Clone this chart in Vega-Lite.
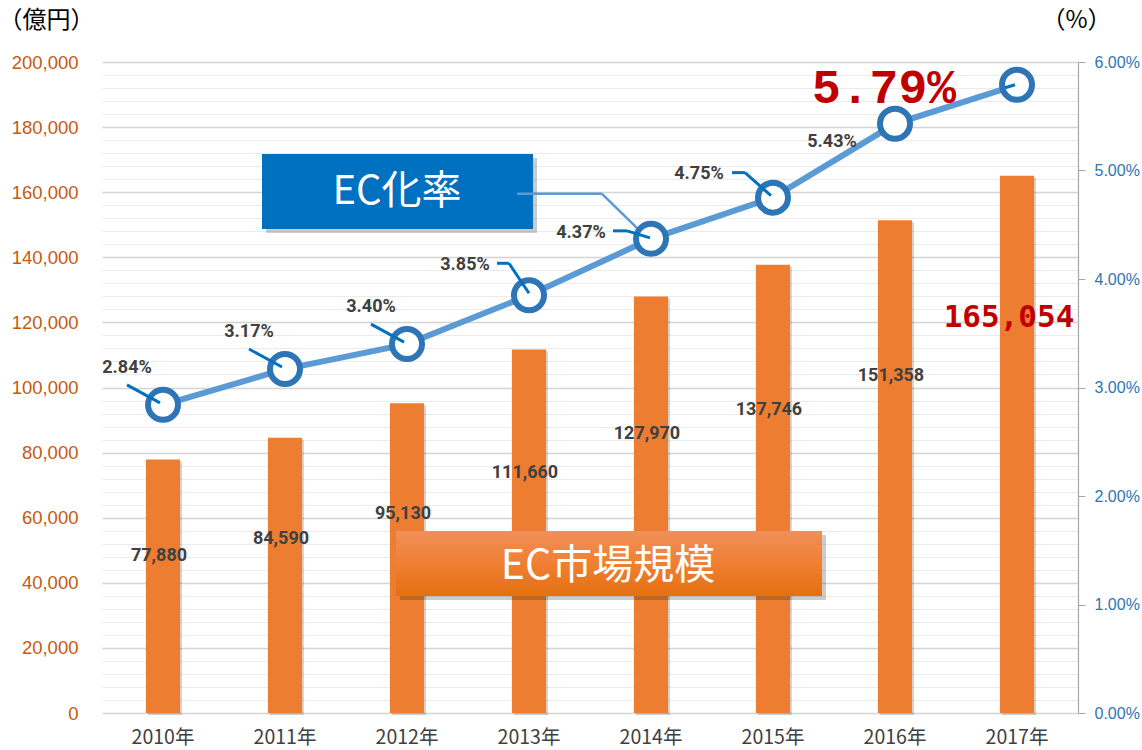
{
  "$schema": "https://vega.github.io/schema/vega-lite/v6.json",
  "width": 976,
  "height": 651,
  "autosize": "none",
  "padding": {"left": 102, "top": 62, "right": 64, "bottom": 37},
  "background": "#FFFFFF",
  "config": {"view": {"stroke": null}, "font": "Liberation Sans"},
  "data": {"values": [
    {"year": "2010年", "market": 77880, "rate": 0.0284},
    {"year": "2011年", "market": 84590, "rate": 0.0317},
    {"year": "2012年", "market": 95130, "rate": 0.0340},
    {"year": "2013年", "market": 111660, "rate": 0.0385},
    {"year": "2014年", "market": 127970, "rate": 0.0437},
    {"year": "2015年", "market": 137746, "rate": 0.0475},
    {"year": "2016年", "market": 151358, "rate": 0.0543},
    {"year": "2017年", "market": 165054, "rate": 0.0579}
  ]},
  "encoding": {
    "x": {"field": "year", "type": "ordinal",
      "scale": {"paddingInner": 0.72, "paddingOuter": 0.36},
      "axis": {"title": null, "labelAngle": 0, "labelColor": "#404040", "labelFontSize": 19.5, "labelFont": "Noto Sans CJK JP", "ticks": false, "domain": false, "labelPadding": 15, "grid": false}}
  },
  "layer": [
    {
      "mark": {"type": "bar", "color": "#000000", "opacity": 0.16, "xOffset": 2, "yOffset": 2},
      "encoding": {"y": {"field": "market", "type": "quantitative", "scale": {"domain": [0, 200000], "nice": false},
        "axis": {"orient": "left", "grid": true, "gridColor": "#EBEBEB", "gridWidth": 1.2, "labels": false, "ticks": false, "tickSize": 0, "domain": false, "title": null,
          "values": [0,4000,8000,12000,16000,20000,24000,28000,32000,36000,40000,44000,48000,52000,56000,60000,64000,68000,72000,76000,80000,84000,88000,92000,96000,100000,104000,108000,112000,116000,120000,124000,128000,132000,136000,140000,144000,148000,152000,156000,160000,164000,168000,172000,176000,180000,184000,188000,192000,196000,200000]}}}
    },
    {
      "mark": {"type": "bar", "color": "#ED7D31"},
      "encoding": {"y": {"field": "market", "type": "quantitative", "scale": {"domain": [0, 200000], "nice": false},
        "axis": {"orient": "left", "grid": true, "gridColor": "#D4D4D4", "gridWidth": 1.6, "values": [0,20000,40000,60000,80000,100000,120000,140000,160000,180000,200000],
          "format": ",d", "labelColor": "#C55A11", "labelFontSize": 18.5, "labelPadding": 24, "ticks": false, "tickSize": 0, "domain": false,
          "title": "（億円）", "titleAngle": 0, "titleX": -56, "titleY": -42, "titleAlign": "center", "titleBaseline": "middle", "titleFont": "Noto Sans CJK JP", "titleFontSize": 24, "titleFontWeight": "normal", "titleColor": "#000000"}}}
    },
    {
      "transform": [{"filter": "datum.year != '2017年'"}],
      "mark": {"type": "text", "font": "Roboto", "fontWeight": "bold", "fontSize": 18, "color": "#404040", "dx": -4, "baseline": "middle"},
      "encoding": {"y": {"field": "market", "type": "quantitative", "scale": {"domain": [13518, 280185], "nice": false, "zero": false}, "axis": null},
        "text": {"field": "market", "type": "quantitative", "format": ",d"}}
    },
    {
      "transform": [{"filter": "datum.year == '2017年'"}],
      "mark": {"type": "text", "font": "DejaVu Sans Mono", "fontWeight": "bold", "fontSize": 31, "color": "#C00000", "dx": -8, "dy": 142, "baseline": "middle"},
      "encoding": {"y": {"field": "market", "type": "quantitative", "scale": {"domain": [0, 200000], "nice": false}, "axis": null},
        "text": {"field": "market", "type": "quantitative", "format": ",d"}}
    },
    {
      "data": {"values": [{}]},
      "mark": {"type": "rect", "color": "#000000", "opacity": 0.2, "width": 271, "xOffset": -5.5, "yOffset": 4, "y2Offset": 4},
      "encoding": {"x": {"datum": "2012年", "type": "ordinal"}, "y": {"datum": 171736, "type": "quantitative", "scale": {"domain": [0, 200000], "nice": false}, "axis": null}, "y2": {"datum": 148694}}
    },
    {
      "data": {"values": [{}]},
      "mark": {"type": "rect", "color": "#0070C0", "width": 271, "xOffset": -9.5},
      "encoding": {"x": {"datum": "2012年", "type": "ordinal"}, "y": {"datum": 171736, "type": "quantitative", "scale": {"domain": [0, 200000], "nice": false}, "axis": null}, "y2": {"datum": 148694}}
    },
    {
      "data": {"values": [{}]},
      "mark": {"type": "rect", "color": "#000000", "opacity": 0.2, "width": 426, "xOffset": -38, "yOffset": 4, "y2Offset": 4},
      "encoding": {"x": {"datum": "2014年", "type": "ordinal"}, "y": {"datum": 55914, "type": "quantitative", "scale": {"domain": [0, 200000], "nice": false}, "axis": null}, "y2": {"datum": 35945}}
    },
    {
      "data": {"values": [{}]},
      "mark": {"type": "rect", "width": 426, "xOffset": -42,
        "fill": {"gradient": "linear", "x1": 0, "y1": 0, "x2": 0, "y2": 1, "stops": [{"offset": 0, "color": "#F08F5A"}, {"offset": 0.5, "color": "#F07F32"}, {"offset": 1, "color": "#E4700F"}]}},
      "encoding": {"x": {"datum": "2014年", "type": "ordinal"}, "y": {"datum": 55914, "type": "quantitative", "scale": {"domain": [0, 200000], "nice": false}, "axis": null}, "y2": {"datum": 35945}}
    },
    {
      "data": {"values": [{"label": "EC化率"}]},
      "mark": {"type": "text", "font": "Noto Sans CJK JP", "fontSize": 40, "color": "#FFFFFF", "dx": -10, "baseline": "middle", "align": "center"},
      "encoding": {"x": {"datum": "2012年", "type": "ordinal"}, "y": {"datum": 160000, "type": "quantitative", "scale": {"domain": [0, 200000], "nice": false}, "axis": null}, "text": {"field": "label"}}
    },
    {
      "data": {"values": [{"label": "EC市場規模"}]},
      "mark": {"type": "text", "font": "Noto Sans CJK JP", "fontSize": 41, "color": "#FFFFFF", "dx": -43, "baseline": "middle", "align": "center"},
      "encoding": {"x": {"datum": "2014年", "type": "ordinal"}, "y": {"datum": 44850, "type": "quantitative", "scale": {"domain": [0, 200000], "nice": false}, "axis": null}, "text": {"field": "label"}}
    },
    {
      "transform": [{"filter": "datum.year == '2014年'"}],
      "mark": {"type": "rule", "color": "#5B9BD5", "strokeWidth": 2.5, "xOffset": -134, "yOffset": -45, "x2Offset": -49, "y2Offset": -45},
      "encoding": {"y": {"field": "rate", "type": "quantitative", "scale": {"domain": [0, 0.06], "nice": false}, "axis": null}, "x2": {"field": "year"}, "y2": {"field": "rate"}}
    },
    {
      "transform": [{"filter": "datum.year == '2014年'"}],
      "mark": {"type": "rule", "color": "#5B9BD5", "strokeWidth": 2.5, "xOffset": -49, "yOffset": -45, "x2Offset": -9, "y2Offset": -6},
      "encoding": {"y": {"field": "rate", "type": "quantitative", "scale": {"domain": [0, 0.06], "nice": false}, "axis": null}, "x2": {"field": "year"}, "y2": {"field": "rate"}}
    },
    {
      "mark": {"type": "line", "color": "#5B9BD5", "strokeWidth": 6},
      "encoding": {"y": {"field": "rate", "type": "quantitative", "scale": {"domain": [0, 0.06], "nice": false},
        "axis": {"orient": "right", "values": [0, 0.01, 0.02, 0.03, 0.04, 0.05, 0.06], "format": ".2%", "labelColor": "#2E75B6", "labelFontSize": 16, "labelPadding": 9,
          "ticks": true, "tickSize": 7, "tickColor": "#A6A6A6", "domain": true, "domainColor": "#A6A6A6", "domainWidth": 1.2, "grid": false,
          "title": "（%）", "titleAngle": 0, "titleX": -2, "titleY": -42, "titleAlign": "center", "titleBaseline": "middle", "titleFont": "Noto Sans CJK JP", "titleFontSize": 24, "titleFontWeight": "normal", "titleColor": "#000000"}}}
    },
    {
      "mark": {"type": "point", "shape": "circle", "filled": true, "fill": "#FFFFFF", "stroke": "#2E75B6", "strokeWidth": 6, "size": 900, "opacity": 1},
      "encoding": {"y": {"field": "rate", "type": "quantitative", "scale": {"domain": [0, 0.06], "nice": false}, "axis": null}}
    },
    {
      "transform": [{"filter": "indexof(['2010年','2011年','2012年'], datum.year) >= 0"}],
      "mark": {"type": "rule", "color": "#0070C0", "strokeWidth": 3, "xOffset": -36, "yOffset": -20, "x2Offset": -3, "y2Offset": -2},
      "encoding": {"y": {"field": "rate", "type": "quantitative", "scale": {"domain": [0, 0.06], "nice": false}, "axis": null}, "x2": {"field": "year"}, "y2": {"field": "rate"}}
    },
    {
      "transform": [{"filter": "datum.year == '2013年'"}],
      "mark": {"type": "rule", "color": "#0070C0", "strokeWidth": 3, "xOffset": -32, "yOffset": -32, "x2Offset": -20, "y2Offset": -32},
      "encoding": {"y": {"field": "rate", "type": "quantitative", "scale": {"domain": [0, 0.06], "nice": false}, "axis": null}, "x2": {"field": "year"}, "y2": {"field": "rate"}}
    },
    {
      "transform": [{"filter": "datum.year == '2013年'"}],
      "mark": {"type": "rule", "color": "#0070C0", "strokeWidth": 3, "xOffset": -20, "yOffset": -32, "x2Offset": 0, "y2Offset": -2},
      "encoding": {"y": {"field": "rate", "type": "quantitative", "scale": {"domain": [0, 0.06], "nice": false}, "axis": null}, "x2": {"field": "year"}, "y2": {"field": "rate"}}
    },
    {
      "transform": [{"filter": "datum.year == '2014年'"}],
      "mark": {"type": "rule", "color": "#0070C0", "strokeWidth": 3, "xOffset": -38, "yOffset": -8, "x2Offset": -24, "y2Offset": -8},
      "encoding": {"y": {"field": "rate", "type": "quantitative", "scale": {"domain": [0, 0.06], "nice": false}, "axis": null}, "x2": {"field": "year"}, "y2": {"field": "rate"}}
    },
    {
      "transform": [{"filter": "datum.year == '2014年'"}],
      "mark": {"type": "rule", "color": "#0070C0", "strokeWidth": 3, "xOffset": -24, "yOffset": -8, "x2Offset": -1, "y2Offset": -1},
      "encoding": {"y": {"field": "rate", "type": "quantitative", "scale": {"domain": [0, 0.06], "nice": false}, "axis": null}, "x2": {"field": "year"}, "y2": {"field": "rate"}}
    },
    {
      "transform": [{"filter": "datum.year == '2015年'"}],
      "mark": {"type": "rule", "color": "#0070C0", "strokeWidth": 3, "xOffset": -41, "yOffset": -25, "x2Offset": -28, "y2Offset": -25},
      "encoding": {"y": {"field": "rate", "type": "quantitative", "scale": {"domain": [0, 0.06], "nice": false}, "axis": null}, "x2": {"field": "year"}, "y2": {"field": "rate"}}
    },
    {
      "transform": [{"filter": "datum.year == '2015年'"}],
      "mark": {"type": "rule", "color": "#0070C0", "strokeWidth": 3, "xOffset": -28, "yOffset": -25, "x2Offset": -2, "y2Offset": -2},
      "encoding": {"y": {"field": "rate", "type": "quantitative", "scale": {"domain": [0, 0.06], "nice": false}, "axis": null}, "x2": {"field": "year"}, "y2": {"field": "rate"}}
    },
    {
      "transform": [{"filter": "datum.year == '2017年'"}],
      "mark": {"type": "rule", "color": "#0070C0", "strokeWidth": 3, "xOffset": -12, "yOffset": 3, "x2Offset": -2, "y2Offset": 0},
      "encoding": {"y": {"field": "rate", "type": "quantitative", "scale": {"domain": [0, 0.06], "nice": false}, "axis": null}, "x2": {"field": "year"}, "y2": {"field": "rate"}}
    },
    {
      "transform": [{"filter": "indexof(['2010年','2011年','2012年'], datum.year) >= 0"}],
      "mark": {"type": "text", "font": "Roboto", "fontWeight": "bold", "fontSize": 18, "color": "#404040", "dx": -36, "dy": -37, "baseline": "middle"},
      "encoding": {"y": {"field": "rate", "type": "quantitative", "scale": {"domain": [0, 0.06], "nice": false}, "axis": null}, "text": {"field": "rate", "type": "quantitative", "format": ".2%"}}
    },
    {
      "transform": [{"filter": "datum.year == '2013年'"}],
      "mark": {"type": "text", "font": "Roboto", "fontWeight": "bold", "fontSize": 18, "color": "#404040", "dx": -64, "dy": -30, "baseline": "middle"},
      "encoding": {"y": {"field": "rate", "type": "quantitative", "scale": {"domain": [0, 0.06], "nice": false}, "axis": null}, "text": {"field": "rate", "type": "quantitative", "format": ".2%"}}
    },
    {
      "transform": [{"filter": "datum.year == '2014年'"}],
      "mark": {"type": "text", "font": "Roboto", "fontWeight": "bold", "fontSize": 18, "color": "#404040", "dx": -70, "dy": -6, "baseline": "middle"},
      "encoding": {"y": {"field": "rate", "type": "quantitative", "scale": {"domain": [0, 0.06], "nice": false}, "axis": null}, "text": {"field": "rate", "type": "quantitative", "format": ".2%"}}
    },
    {
      "transform": [{"filter": "datum.year == '2015年'"}],
      "mark": {"type": "text", "font": "Roboto", "fontWeight": "bold", "fontSize": 18, "color": "#404040", "dx": -74, "dy": -24, "baseline": "middle"},
      "encoding": {"y": {"field": "rate", "type": "quantitative", "scale": {"domain": [0, 0.06], "nice": false}, "axis": null}, "text": {"field": "rate", "type": "quantitative", "format": ".2%"}}
    },
    {
      "transform": [{"filter": "datum.year == '2016年'"}],
      "mark": {"type": "text", "font": "Roboto", "fontWeight": "bold", "fontSize": 18, "color": "#404040", "dx": -63, "dy": 18, "baseline": "middle"},
      "encoding": {"y": {"field": "rate", "type": "quantitative", "scale": {"domain": [0, 0.06], "nice": false}, "axis": null}, "text": {"field": "rate", "type": "quantitative", "format": ".2%"}}
    },
    {
      "transform": [{"filter": "datum.year == '2017年'"}],
      "mark": {"type": "text", "font": "Liberation Mono", "fontWeight": "bold", "fontSize": 48, "color": "#C00000", "dx": -133, "dy": 4, "baseline": "middle"},
      "encoding": {"y": {"field": "rate", "type": "quantitative", "scale": {"domain": [0, 0.06], "nice": false}, "axis": null}, "text": {"field": "rate", "type": "quantitative", "format": ".2%"}}
    }
  ],
  "resolve": {"scale": {"y": "independent"}, "axis": {"y": "independent"}}
}
